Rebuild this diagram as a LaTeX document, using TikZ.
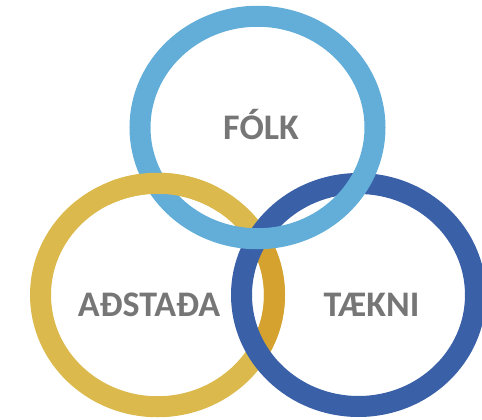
\documentclass[tikz,border=0pt]{standalone}
\usepackage{fontspec}
\setmainfont{Carlito}
\usetikzlibrary{positioning}
\definecolor{folkblue}{HTML}{62AED8}
\definecolor{tekniblue}{HTML}{3A60A8}
\definecolor{adstadagold}{HTML}{DBB94C}
\definecolor{adstadadark}{HTML}{D6A22F}
\definecolor{labelgray}{HTML}{767676}
\begin{document}
\begin{tikzpicture}[x=1pt, y=-1pt, ring/.style={line width=21pt}, label node/.style={font=\fontsize{36}{40}\selectfont\bfseries, text=labelgray, anchor=base, inner sep=0pt}]
\useasboundingbox (0,0) rectangle (482,420);
\clip (0,0) rectangle (482,420);
\begin{scope}
% gold ring first
\draw[ring, adstadagold] (157.5,295) ellipse [x radius=117pt, y radius=111.75pt];
\begin{scope}
\clip (358.5,295) ellipse [x radius=117pt, y radius=111.5pt];
\draw[ring, adstadadark] (157.5,295) ellipse [x radius=117pt, y radius=111.75pt];
\end{scope}
\draw[ring, tekniblue] (358.5,295) ellipse [x radius=117pt, y radius=111.5pt];
\draw[ring, folkblue] (257.5,127.5) ellipse [x radius=117.5pt, y radius=111.25pt];
% gold over light blue on the left
\begin{scope}
\clip (110,150) rectangle (218,215);
\draw[ring, adstadagold] (157.5,295) ellipse [x radius=117pt, y radius=111.75pt];
\end{scope}
\end{scope}
\begin{scope}
\node[label node] (folk) at (261,139) {FÓLK};
\node[label node] (adstada) at (149,316.5) {AÐSTAÐA};
\node[label node] (taekni) at (371.5,316.5) {TÆKNI};
\end{scope}
\end{tikzpicture}
\end{document}
